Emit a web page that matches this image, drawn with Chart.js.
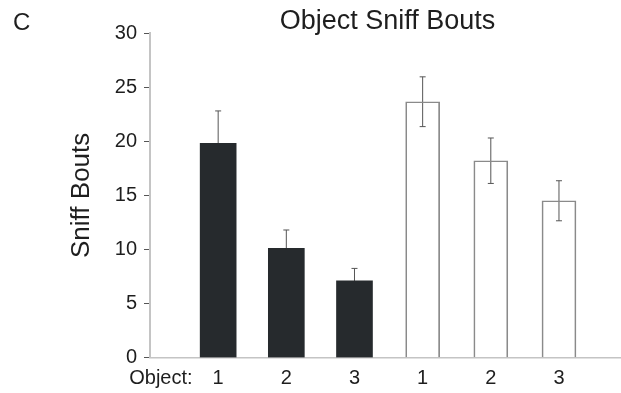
<!DOCTYPE html>
<html>
<head>
<meta charset="utf-8">
<script src="https://cdn.jsdelivr.net/npm/chart.js@4.4.1/dist/chart.umd.min.js"></script>
<style>
    html, body { margin: 0; padding: 0; background: #fff; }
    #wrap { width: 621px; height: 393px; position: relative; }
</style>
</head>
<body>
<div id="wrap"><canvas id="sniffChart"></canvas></div>
<script>
// tick labels along the x axis (first one is the "Object:" prefix)
const xTickLabels = ["Object:", "1", "2", "3", "1", "2", "3"];
const xTickPositions = [0.16, 1, 2, 3, 4, 5, 6];

// bar slots for each group
const darkSlots = [1, 2, 3];
const lightSlots = [4, 5, 6];

// mean sniff bouts and error (SEM)
const darkValues = [19.8, 10.1, 7.1];
const darkErrors = [3.0, 1.7, 1.15];
const lightValues = [23.65, 18.2, 14.5];
const lightErrors = [2.3, 2.1, 1.85];

const TEXT = "#1e1e1e";
const FONT = "Arial, 'Liberation Sans', sans-serif";

const toPoints = (slots, vals) => slots.map((x, i) => ({ x, y: vals[i] }));

// error bars drawn before the bars so the dark bars hide the lower whisker
const errorBars = {
    id: "errorBars",
    beforeDatasetsDraw(chart) {
        const { ctx } = chart;
        const yScale = chart.scales.y;
        chart.data.datasets.forEach((ds, di) => {
            const meta = chart.getDatasetMeta(di);
            meta.data.forEach((bar, i) => {
                const v = ds.data[i].y, e = ds.errors[i];
                const top = yScale.getPixelForValue(v + e);
                const bot = yScale.getPixelForValue(v - e);
                ctx.save();
                ctx.strokeStyle = "#555";
                ctx.lineWidth = 1;
                ctx.beginPath();
                ctx.moveTo(bar.x, top); ctx.lineTo(bar.x, bot);
                ctx.moveTo(bar.x - 3, top); ctx.lineTo(bar.x + 3, top);
                ctx.moveTo(bar.x - 3, bot); ctx.lineTo(bar.x + 3, bot);
                ctx.stroke();
                ctx.restore();
            });
        });
    }
};

// panel letter and chart title
const headings = {
    id: "headings",
    afterDraw(chart) {
        const { ctx, chartArea } = chart;
        ctx.save();
        ctx.fillStyle = TEXT;
        ctx.textBaseline = "alphabetic";
        ctx.font = `24px ${FONT}`;
        ctx.textAlign = "left";
        ctx.fillText("C", 13, 30);
        ctx.font = `27px ${FONT}`;
        ctx.textAlign = "center";
        ctx.fillText("Object Sniff Bouts", (chartArea.left + chartArea.right) / 2 + 2, 29);
        ctx.restore();
    }
};

new Chart(document.getElementById("sniffChart"), {
    type: "bar",
    data: {
        datasets: [
            {
                data: toPoints(darkSlots, darkValues),
                errors: darkErrors,
                backgroundColor: "#262a2d",
                borderWidth: 0,
                barThickness: 36,
                grouped: false
            },
            {
                data: toPoints(lightSlots, lightValues),
                errors: lightErrors,
                backgroundColor: "rgba(255,255,255,0)",
                borderColor: "#8a8a8a",
                borderWidth: 1,
                barThickness: 34,
                grouped: false
            }
        ]
    },
    options: {
        responsive: true,
        maintainAspectRatio: false,
        animation: false,
        layout: { padding: { top: 33, left: 0, right: 0, bottom: 2 } },
        plugins: { legend: { display: false }, tooltip: { enabled: false } },
        scales: {
            x: {
                type: "linear",
                offset: false,
                min: 0,
                max: 6.91,
                grid: { display: false, drawTicks: false, offset: false },
                border: { display: true, color: "#c4c4c4", width: 1.5 },
                afterBuildTicks: (scale) => {
                    scale.ticks = xTickPositions.map((value) => ({ value }));
                },
                afterFit: (scale) => {
                    scale.paddingLeft = 0;
                    scale.paddingRight = 0;
                    scale.height = 33.3;
                },
                ticks: {
                    autoSkip: false,
                    maxRotation: 0,
                    padding: 9,
                    color: TEXT,
                    font: { family: FONT, size: 20 },
                    callback: (value) => {
                        const idx = xTickPositions.indexOf(value);
                        return idx >= 0 ? xTickLabels[idx] : "";
                    }
                }
            },
            y: {
                min: 0,
                max: 30,
                afterFit: (scale) => { scale.width = 150; },
                grid: { drawOnChartArea: false, tickLength: 6, tickColor: "#555", tickWidth: 1 },
                border: { display: true, color: "#c4c4c4", width: 2 },
                ticks: {
                    stepSize: 5,
                    padding: 7,
                    color: TEXT,
                    font: { family: FONT, size: 20 }
                },
                title: {
                    display: true,
                    text: "Sniff Bouts",
                    color: TEXT,
                    font: { family: FONT, size: 26 },
                    padding: { top: 66, bottom: 0 }
                }
            }
        }
    },
    plugins: [errorBars, headings]
});
</script>
</body>
</html>
